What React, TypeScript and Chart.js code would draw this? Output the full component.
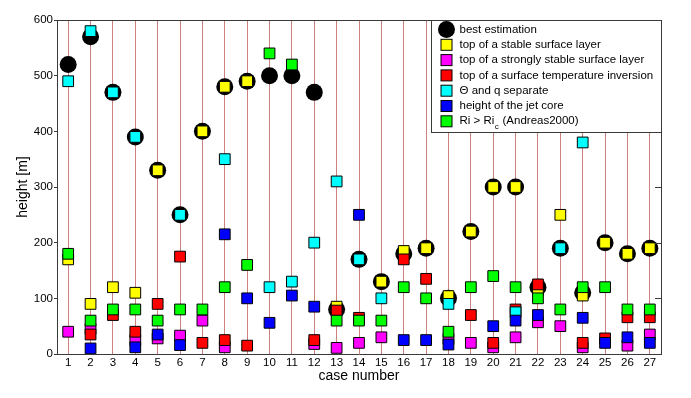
import React, { useEffect, useRef } from 'react';
import { Chart, registerables } from 'chart.js';

Chart.register(...registerables);

const cases = [1, 2, 3, 4, 5, 6, 7, 8, 9, 10, 11, 12, 13, 14, 15, 16, 17, 18, 19, 20, 21, 22, 23, 24, 25, 26, 27];
const yTicks = [0, 100, 200, 300, 400, 500, 600];

const bestEstimation = [520, 570, 470, 390, 330, 250, 400, 480, 490, 500, 500, 470, 80, 170, 130, 180, 190, 100, 220, 300, 300, 120, 190, 110, 200, 180, 190];
const stableLayer = [170, 90, 120, 110, 330, null, 400, 480, 490, null, null, null, 85, null, 130, 185, 190, 104, 220, 300, 300, 115, 250, 105, 200, 180, 190];
const stronglyStable = [40, 45, null, 25, 28, 33, 60, 12, null, null, null, 18, 11, 20, 30, null, null, 27, 20, 12, 30, 57, 50, 12, null, 15, 35];
const inversion = [null, 35, 70, 40, 90, 175, 20, 25, 15, null, null, 25, 78, 65, null, 170, 135, null, 70, 20, 80, 125, null, 20, 28, 66, 66];
const thetaQ = [490, 580, 470, 390, null, 250, null, 350, null, 120, 130, 200, 310, 170, 100, null, null, 90, null, null, 75, null, 190, 380, null, null, null];
const jetCore = [null, 10, null, 12, 35, 16, null, 215, 100, 56, 105, 85, null, 250, null, 25, 25, 17, null, 50, 60, 70, null, 65, 20, 30, 20];
const richardson = [180, 60, 80, 80, 60, 80, 80, 120, 160, 540, 520, null, 60, 60, 60, 120, 100, 40, 120, 140, 120, 100, 80, 120, 120, 80, 80];

const seriesLabels = [
  'best estimation',
  'top of a stable surface layer',
  'top of a strongly stable surface layer',
  'top of a surface temperature inversion',
  '\u0398 and q separate',
  'height of the jet core',
  'Ri > Ri_c (Andreas2000)',
];
const seriesColors = ['#000000', '#ffff00', '#ff00ff', '#ff0000', '#00ffff', '#0000ff', '#00ff00'];
const seriesValues = [bestEstimation, stableLayer, stronglyStable, inversion, thetaQ, jetCore, richardson];

const FONT = '"Liberation Sans", Arial, Helvetica, sans-serif';
const FRAME = '#3a3a3a';
const CASE_LINE = 'rgb(205,128,128)';

function toPoints(arr: (number | null)[]) {
  const pts: { x: number; y: number }[] = [];
  arr.forEach((v, i) => {
    if (v !== null) pts.push({ x: cases[i], y: v });
  });
  return pts;
}

const framePlugin = {
  id: 'frameAndLegend',
  afterDatasetsDraw(chart: any) {
    const ctx = chart.ctx as CanvasRenderingContext2D;
    const ca = chart.chartArea;
    const yScale = chart.scales.y;
    ctx.save();
    // box
    ctx.strokeStyle = FRAME;
    ctx.lineWidth = 1;
    ctx.beginPath();
    ctx.moveTo(Math.round(ca.left) + 0.5, Math.round(ca.top) + 0.5);
    ctx.lineTo(Math.round(ca.right) + 0.5, Math.round(ca.top) + 0.5);
    ctx.lineTo(Math.round(ca.right) + 0.5, Math.round(ca.bottom) + 0.5);
    ctx.stroke();
    // right inner ticks
    yTicks.forEach((v) => {
      const py = Math.round(yScale.getPixelForValue(v)) + 0.5;
      ctx.beginPath();
      ctx.moveTo(ca.right - 6, py);
      ctx.lineTo(ca.right, py);
      ctx.stroke();
    });

    // legend box
    const boxW = 230;
    const boxH = 112;
    const bx = Math.round(ca.right - boxW) + 0.5;
    const by = Math.round(ca.top) + 0.5;
    ctx.fillStyle = '#ffffff';
    ctx.fillRect(bx, by, boxW, boxH);
    ctx.strokeStyle = FRAME;
    ctx.strokeRect(bx, by, boxW, boxH);

    const rowStart = by + 9;
    const rowGap = 15.3;
    const markerX = bx + 15;
    const textX = bx + 28;
    seriesLabels.forEach((label, i) => {
      const cy = rowStart + i * rowGap;
      if (i === 0) {
        ctx.fillStyle = '#000';
        ctx.beginPath();
        ctx.arc(markerX, cy, 8.5, 0, Math.PI * 2);
        ctx.fill();
      } else {
        const s = 11;
        ctx.fillStyle = seriesColors[i];
        ctx.fillRect(markerX - s / 2, cy - s / 2, s, s);
        ctx.strokeStyle = '#000';
        ctx.strokeRect(markerX - s / 2, cy - s / 2, s, s);
      }
      ctx.fillStyle = '#000';
      ctx.textBaseline = 'middle';
      ctx.textAlign = 'left';
      const idx = label.indexOf('_');
      ctx.font = '11.5px ' + FONT;
      if (idx >= 0) {
        const pre = label.slice(0, idx);
        const sub = label.slice(idx + 1, idx + 2);
        const post = label.slice(idx + 2);
        ctx.fillText(pre, textX, cy);
        let x = textX + ctx.measureText(pre).width;
        ctx.font = '8px ' + FONT;
        ctx.fillText(sub, x + 0.5, cy + 5);
        x += ctx.measureText(sub).width + 1;
        ctx.font = '11.5px ' + FONT;
        ctx.fillText(post, x, cy);
      } else {
        ctx.fillText(label, textX, cy);
      }
    });
    ctx.restore();
  },
};

export default function App() {
  const canvasRef = useRef<HTMLCanvasElement | null>(null);

  useEffect(() => {
    const canvas = canvasRef.current;
    if (!canvas) return;
    const datasets = seriesValues.map((vals, i) => ({
      label: seriesLabels[i],
      data: toPoints(vals),
      order: seriesValues.length - i,
      showLine: false,
      pointStyle: i === 0 ? 'circle' : 'rect',
      pointRadius: i === 0 ? 8.5 : 7.6,
      pointHoverRadius: i === 0 ? 8.5 : 7.6,
      pointBackgroundColor: seriesColors[i],
      pointBorderColor: '#000000',
      pointBorderWidth: i === 0 ? 0 : 1,
      backgroundColor: seriesColors[i],
      borderColor: '#000000',
    }));

    const chart = new Chart(canvas, {
      type: 'scatter',
      data: { datasets: datasets as any },
      options: {
        responsive: false,
        animation: false,
        devicePixelRatio: 1,
        layout: { padding: { left: 0, top: 20, right: 30, bottom: 0 } },
        plugins: {
          legend: { display: false },
          tooltip: { enabled: false },
        },
        scales: {
          x: {
            type: 'linear',
            min: 0.5,
            max: 27.5,
            afterBuildTicks: (scale: any) => {
              scale.ticks = cases.map((c) => ({ value: c }));
            },
            afterFit: (scale: any) => {
              scale.height = 44;
            },
            grid: {
              color: CASE_LINE,
              lineWidth: 1,
              drawTicks: false,
            },
            border: { display: true, color: FRAME, width: 1 },
            ticks: {
              padding: 2,
              color: '#000',
              font: { family: FONT, size: 11.5 },
              autoSkip: false,
              maxRotation: 0,
              callback: (v: any) => String(v),
            },
            title: {
              display: true,
              text: 'case number',
              color: '#000',
              font: { family: FONT, size: 14 },
              padding: { top: 0, bottom: 13 },
            },
          },
          y: {
            type: 'linear',
            min: 0,
            max: 600,
            afterBuildTicks: (scale: any) => {
              scale.ticks = yTicks.map((v) => ({ value: v }));
            },
            afterFit: (scale: any) => {
              scale.width = 57;
            },
            grid: {
              drawOnChartArea: false,
              drawTicks: true,
              tickLength: 3,
              color: FRAME,
            },
            border: { display: true, color: FRAME, width: 1 },
            ticks: {
              padding: 1,
              color: '#000',
              font: { family: FONT, size: 11.5 },
            },
            title: {
              display: true,
              text: 'height [m]',
              color: '#000',
              font: { family: FONT, size: 14 },
              padding: { top: 15, bottom: 0 },
            },
          },
        },
      },
      plugins: [framePlugin],
    });

    return () => {
      chart.destroy();
    };
  }, []);

  return (
    <div style={{ position: 'absolute', left: 0, top: 0, width: 691, height: 398, background: '#fff' }}>
      <canvas ref={canvasRef} width={691} height={398} style={{ display: 'block', width: 691, height: 398 }} />
    </div>
  );
}
